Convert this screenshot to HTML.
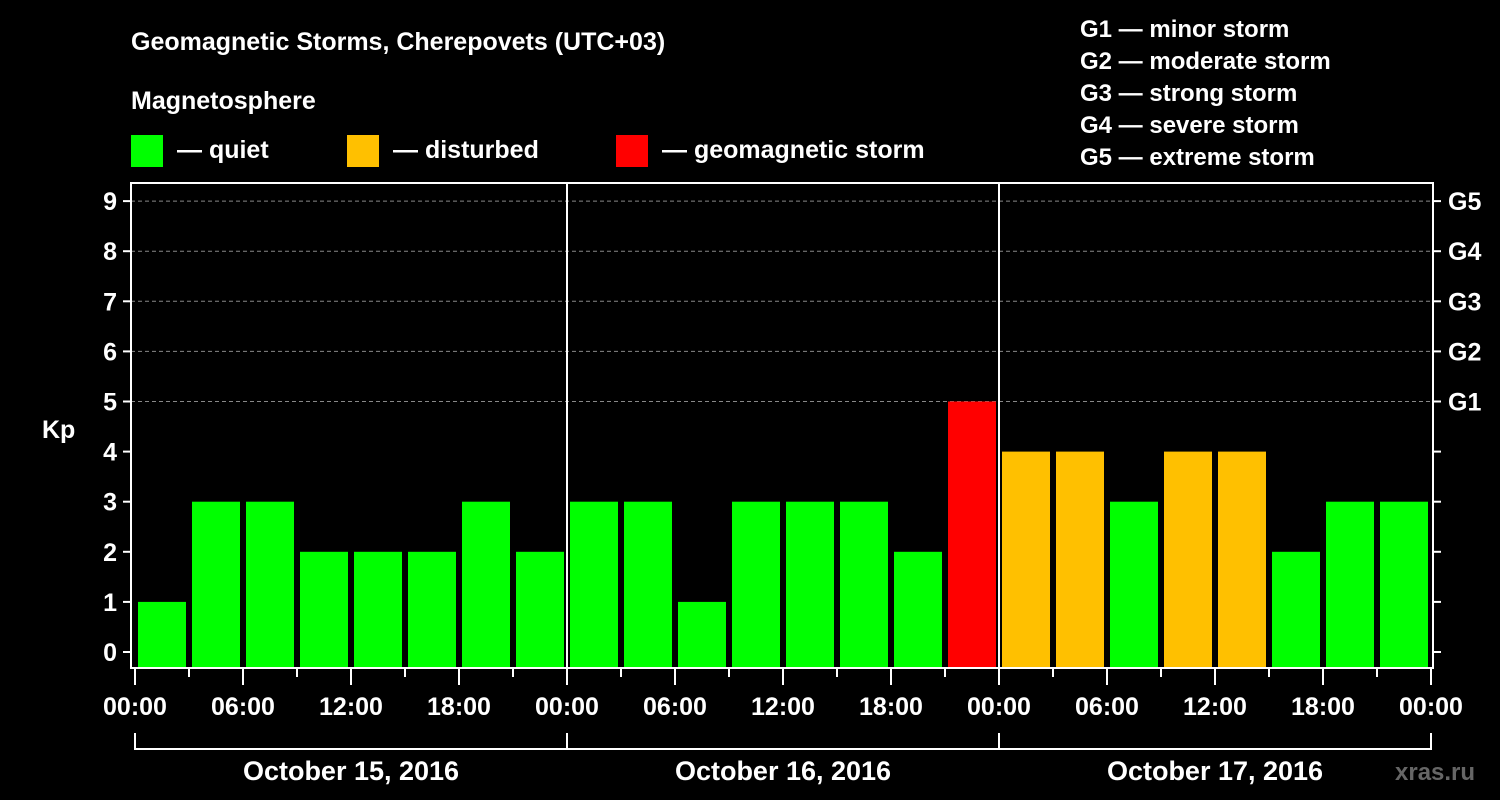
<!DOCTYPE html>
<html><head><meta charset="utf-8"><style>
html,body{margin:0;padding:0;background:#000;width:1500px;height:800px;overflow:hidden}
svg{display:block;font-family:"Liberation Sans",sans-serif;font-weight:bold}
</style></head><body>
<svg id="chart" width="1500" height="800" viewBox="0 0 1500 800">
<text x="131" y="50" fill="#fff" font-size="25">Geomagnetic Storms, Cherepovets (UTC+03)</text>
<text x="131" y="109" fill="#fff" font-size="25">Magnetosphere</text>
<g><rect x="131" y="135" width="32" height="32" fill="#00ff00"/><text x="177" y="158" fill="#fff" font-size="25">— quiet</text></g>
<g><rect x="347" y="135" width="32" height="32" fill="#ffc000"/><text x="393" y="158" fill="#fff" font-size="25">— disturbed</text></g>
<g><rect x="616" y="135" width="32" height="32" fill="#ff0000"/><text x="662" y="158" fill="#fff" font-size="25">— geomagnetic storm</text></g>
<g fill="#fff" font-size="24">
<text x="1080" y="37">G1 — minor storm</text>
<text x="1080" y="69">G2 — moderate storm</text>
<text x="1080" y="101">G3 — strong storm</text>
<text x="1080" y="133">G4 — severe storm</text>
<text x="1080" y="165">G5 — extreme storm</text>
</g>
<g id="grid"></g><g id="bars"></g><g id="axes"></g>
<text x="42" y="438" fill="#fff" font-size="25">Kp</text>
<text x="1395" y="780" fill="#666" font-size="24">xras.ru</text>
</svg>
<script>
const kpValues=[1,3,3,2,2,2,3,2, 3,3,1,3,3,3,2,5, 4,4,3,4,4,2,3,3];
const dayLabels=["October 15, 2016","October 16, 2016","October 17, 2016"];
const timeLabels=["00:00","06:00","12:00","18:00"];
const gLabels=["G1","G2","G3","G4","G5"];
const NS="http://www.w3.org/2000/svg";
const X0=135,SLOT=54,Y0=652,UNIT=50.1,LEFT=131,RIGHT=1433,TOP=183,BOT=668;
const xs=i=>X0+i*SLOT, ys=k=>Y0-k*UNIT;
function mk(p,t,a){const e=document.createElementNS(NS,t);for(const k in a)e.setAttribute(k,a[k]);p.appendChild(e);return e;}
const grid=document.getElementById('grid'),bars=document.getElementById('bars'),axes=document.getElementById('axes');
for(let k=5;k<=9;k++){const l=mk(grid,'line',{x1:LEFT,x2:RIGHT,y1:ys(k),y2:ys(k),stroke:'#888','stroke-dasharray':'4,3','stroke-width':1});

}
kpValues.forEach((v,i)=>{const c=v>=5?'#ff0000':v===4?'#ffc000':'#00ff00';
const r=mk(bars,'rect',{x:xs(i)+3,y:ys(v),width:48,height:BOT-ys(v),fill:c});

});
mk(axes,'rect',{x:LEFT,y:TOP,width:RIGHT-LEFT,height:BOT-TOP,fill:'none',stroke:'#fff','stroke-width':2});
for(let d=1;d<3;d++){mk(axes,'line',{x1:xs(d*8),x2:xs(d*8),y1:TOP,y2:BOT,stroke:'#fff','stroke-width':2});}
for(let k=0;k<=9;k++){
mk(axes,'line',{x1:LEFT-8,x2:LEFT,y1:ys(k),y2:ys(k),stroke:'#fff','stroke-width':2});
mk(axes,'line',{x1:RIGHT,x2:RIGHT+8,y1:ys(k),y2:ys(k),stroke:'#fff','stroke-width':2});
const t=mk(axes,'text',{x:LEFT-14,y:ys(k)+9,fill:'#fff','font-size':25,'text-anchor':'end'});t.textContent=k;

}
gLabels.forEach((g,i)=>{const t=mk(axes,'text',{x:1448,y:ys(i+5)+9,fill:'#fff','font-size':25});t.textContent=g;

});
for(let i=0;i<=24;i++){const major=i%2===0;
mk(axes,'line',{x1:xs(i),x2:xs(i),y1:BOT,y2:BOT+(major?17:9),stroke:'#fff','stroke-width':2});
if(major){const t=mk(axes,'text',{x:xs(i),y:715,fill:'#fff','font-size':25,'text-anchor':'middle'});t.textContent=timeLabels[(i/2)%4];

}}
mk(axes,'path',{d:`M${xs(0)} 733V749H${xs(24)}V733`,fill:'none',stroke:'#fff','stroke-width':2});
for(let d=1;d<3;d++)mk(axes,'line',{x1:xs(d*8),x2:xs(d*8),y1:733,y2:749,stroke:'#fff','stroke-width':2});
dayLabels.forEach((s,d)=>{const t=mk(axes,'text',{x:xs(d*8+4),y:780,fill:'#fff','font-size':27,'text-anchor':'middle'});t.textContent=s;

});
</script>
</body></html>
